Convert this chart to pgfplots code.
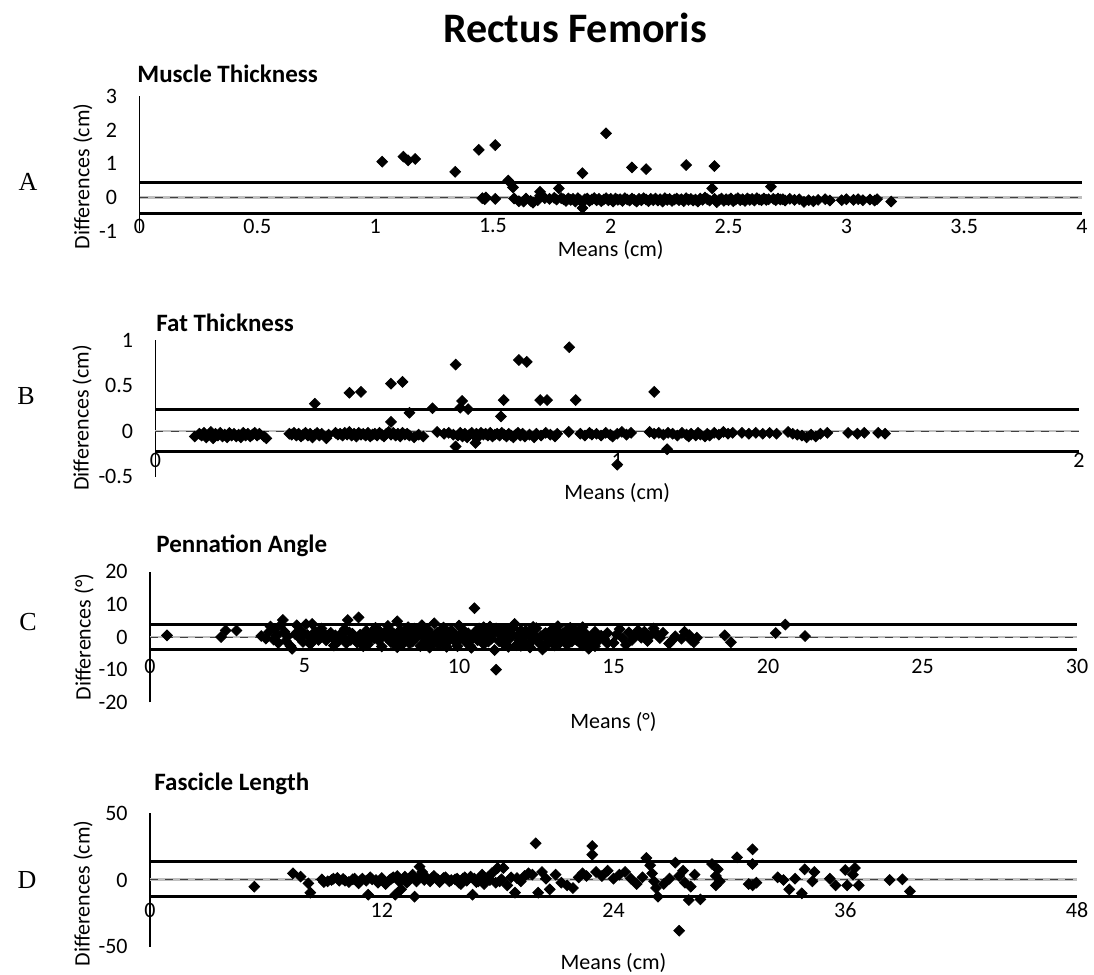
\documentclass[border=0pt]{standalone}
\usepackage{fontspec}
\setmainfont{Carlito}
\newfontfamily\letterfont{Liberation Serif}
\usepackage{pgfplots}
\pgfplotsset{compat=1.18}

\pgfplotsset{
  ba/.style={
    scale only axis, anchor=south west, clip=false,
    axis x line*=bottom, axis y line*=left,
    x axis line style={draw=none},
    y axis line style={line width=0.8pt,-},
    major tick length=0pt,
    /pgf/number format/assume math mode=true,
    tick label style={font=\fontsize{11}{13}\selectfont},
    xticklabel style={anchor=center},
    yticklabel style={anchor=east, inner sep=0pt, xshift=-11pt},
    label style={font=\fontsize{11}{13}\selectfont},
    xlabel style={anchor=center},
    ylabel style={anchor=center},
    title style={font=\bfseries\fontsize{12.5}{15}\selectfont, anchor=west, inner sep=0pt},
  },
  pts/.style={only marks, black, mark=square*, mark size=1.9pt,
    mark options={rotate=45, fill=black, draw=black}},
  loa/.style={black, line width=1.5pt, no markers},
  meanbase/.style={gray!50, line width=1.3pt, no markers},
  meandash/.style={black!75, line width=0.5pt, dash pattern=on 4pt off 3.5pt, no markers},
}

\begin{document}
\begin{tikzpicture}
\path[use as bounding box] (0,0) rectangle (547pt,-487.5pt);

\node[font=\bfseries\fontsize{21}{25}\selectfont] at (287.5pt,-14pt) {Rectus Femoris};
\node[font=\letterfont\fontsize{13}{15}\selectfont] at (14pt,-91pt) {A};
\node[font=\letterfont\fontsize{13}{15}\selectfont] at (13pt,-198pt) {B};
\node[font=\letterfont\fontsize{13}{15}\selectfont] at (14pt,-311pt) {C};
\node[font=\letterfont\fontsize{13}{15}\selectfont] at (13.5pt,-440pt) {D};

% A: muscle thickness
\begin{axis}[ba, at={(69.75pt,-115.65pt)}, width=471.25pt, height=67.6pt,
  xmin=0, xmax=4, ymin=-1, ymax=3,
  xtick={0,0.5,...,4}, ytick={-1,0,1,2,3},
  xticklabel style={yshift=2.65pt},
  title={Muscle Thickness}, title style={at={(axis description cs:0,1)}, xshift=-1.25pt, yshift=5pt},
  xlabel={Means (cm)}, xlabel style={at={(axis description cs:0.5,0)}, yshift=-9.35pt},
  ylabel={Differences (cm)}, ylabel style={at={(axis description cs:-0.06,0.405)}},
]
\addplot[loa] coordinates {(0,0.44) (4,0.44)};
\addplot[loa] coordinates {(0,-0.47) (4,-0.47)};
\addplot[meanbase] coordinates {(0,0) (4,0)};
\addplot[meandash] coordinates {(0,0) (4,0)};
\addplot[pts] coordinates {
(1.03,1.06)(1.12,1.21)(1.14,1.10)(1.17,1.14)(1.34,0.76)(1.44,1.41)(1.51,1.55)
(1.565,0.50)(1.585,0.30)(1.70,0.17)(1.78,0.27)(1.88,0.72)(1.98,1.90)(2.09,0.89)
(2.15,0.84)(2.32,0.96)(2.44,0.93)(2.43,0.27)(2.68,0.32)(1.88,-0.31)(3.19,-0.12)
(1.455,-0.02)(1.47,0.0)(1.465,-0.05)(1.51,-0.04)(1.59,-0.03)(1.61,-0.11)(1.63,-0.12)
(1.64,-0.03)(1.66,-0.10)(1.67,-0.15)(1.69,-0.08)(1.70,0.05)(1.72,-0.02)(1.74,-0.04)
(1.76,-0.01)(1.77,-0.06)(1.79,-0.02)(1.80,-0.05)(1.81,-0.10)(1.82,-0.03)(1.83,-0.07)
(1.84,-0.04)(1.85,-0.12)(1.86,-0.02)(1.87,-0.08)(1.88,-0.15)(1.89,-0.05)(1.90,-0.03)
(1.91,-0.10)(1.92,-0.06)(1.93,-0.02)(1.94,-0.08)(1.95,-0.04)(1.96,-0.11)(1.97,-0.06)
(1.98,-0.02)(1.99,-0.08)(2.00,-0.04)(2.01,-0.12)(2.02,-0.03)(2.03,-0.07)(2.04,-0.05)
(2.05,-0.10)(2.06,-0.02)(2.07,-0.06)(2.08,-0.09)(2.09,-0.03)(2.10,-0.07)(2.11,-0.12)
(2.12,-0.04)(2.13,-0.08)(2.14,-0.02)(2.15,-0.06)(2.16,-0.11)(2.17,-0.04)(2.18,-0.08)
(2.19,-0.03)(2.20,-0.09)(2.21,-0.05)(2.22,-0.12)(2.23,-0.02)(2.24,-0.07)(2.25,-0.04)
(2.26,-0.10)(2.27,-0.06)(2.28,-0.03)(2.29,-0.08)(2.30,-0.05)(2.31,-0.11)(2.32,-0.02)
(2.33,-0.07)(2.34,-0.04)(2.35,-0.09)(2.36,-0.06)(2.37,-0.12)(2.38,-0.03)(2.39,-0.07)
(2.40,0.0)(2.41,-0.05)(2.42,-0.09)(2.44,-0.04)(2.45,-0.14)(2.46,-0.07)(2.47,-0.03)
(2.48,-0.10)(2.49,-0.05)(2.50,-0.08)(2.51,-0.03)(2.52,-0.11)(2.53,-0.06)(2.54,-0.02)
(2.55,-0.08)(2.56,-0.05)(2.57,-0.10)(2.58,-0.03)(2.59,-0.07)(2.60,-0.04)(2.61,-0.09)
(2.62,-0.02)(2.63,-0.06)(2.64,-0.08)(2.65,-0.03)(2.66,-0.07)(2.67,-0.05)(2.69,-0.04)
(2.70,-0.08)(2.71,-0.03)(2.72,-0.06)(2.73,-0.05)(2.74,-0.09)(2.76,-0.04)(2.78,-0.07)
(2.80,-0.05)(2.82,-0.13)(2.84,-0.08)(2.86,-0.11)(2.88,-0.07)(2.91,-0.05)(2.93,-0.09)
(2.98,-0.08)(3.00,-0.05)(3.03,-0.07)(3.05,-0.05)(3.07,-0.08)(3.10,-0.06)(3.12,-0.09)
(3.13,-0.05)
};
\end{axis}

% B: fat thickness
\begin{axis}[ba, at={(77.75pt,-238.25pt)}, width=461.75pt, height=68.25pt,
  xmin=0, xmax=2, ymin=-0.5, ymax=1,
  xtick={0,1,2}, ytick={-0.5,0,0.5,1},
  xticklabel style={yshift=8.25pt},
  title={Fat Thickness}, title style={at={(axis description cs:0,1)}, xshift=0.25pt, yshift=2.5pt},
  xlabel={Means (cm)}, xlabel style={at={(axis description cs:0.5,0)}, yshift=-8.25pt},
  ylabel={Differences (cm)}, ylabel style={at={(axis description cs:-0.0796,0.43)}},
]
\addplot[loa] coordinates {(0,0.24) (2,0.24)};
\addplot[loa] coordinates {(0,-0.22) (2,-0.22)};
\addplot[meanbase] coordinates {(0,0) (2,0)};
\addplot[meandash] coordinates {(0,0) (2,0)};
\addplot[pts] coordinates {
(0.085,-0.06)(0.095,-0.03)(0.10,-0.05)(0.105,-0.02)(0.11,-0.07)(0.115,-0.04)(0.12,-0.01)
(0.125,-0.08)(0.13,-0.03)(0.135,-0.05)(0.14,-0.02)(0.145,-0.06)(0.15,-0.04)(0.155,-0.07)
(0.16,-0.02)(0.165,-0.05)(0.17,-0.03)(0.175,-0.06)(0.18,-0.04)(0.185,-0.07)(0.19,-0.02)
(0.195,-0.05)(0.20,-0.03)(0.205,-0.06)(0.21,-0.04)(0.215,-0.02)(0.22,-0.05)(0.225,-0.03)
(0.235,-0.06)(0.24,-0.08)
(0.29,-0.03)(0.295,-0.04)(0.30,-0.02)(0.305,-0.05)(0.31,-0.03)(0.315,-0.06)(0.32,-0.04)
(0.325,-0.02)(0.33,-0.05)(0.335,-0.03)(0.34,-0.07)(0.345,-0.04)(0.35,-0.02)(0.355,-0.05)
(0.36,-0.03)(0.37,-0.08)(0.375,-0.04)(0.345,0.30)
(0.39,-0.02)(0.395,-0.04)(0.40,-0.03)(0.405,-0.05)(0.41,-0.02)(0.415,-0.04)(0.42,-0.01)
(0.425,-0.05)(0.43,-0.03)(0.435,-0.06)(0.44,-0.02)(0.445,-0.04)(0.45,-0.03)(0.455,-0.05)
(0.46,-0.02)(0.465,-0.06)(0.47,-0.04)(0.475,-0.03)(0.48,-0.05)(0.485,-0.02)(0.49,-0.04)
(0.495,-0.06)(0.50,-0.03)(0.505,-0.01)(0.51,-0.04)(0.515,-0.02)(0.52,-0.05)(0.525,-0.03)
(0.53,-0.06)(0.535,-0.02)(0.54,-0.04)(0.545,-0.03)(0.55,-0.05)(0.56,-0.07)(0.57,-0.04)
(0.58,-0.06)
(0.42,0.42)(0.445,0.43)(0.51,0.52)(0.535,0.54)(0.51,0.10)(0.55,0.20)(0.60,0.25)
(0.65,0.73)(0.664,0.33)(0.66,0.255)(0.677,0.24)(0.65,-0.17)(0.693,-0.13)(0.748,0.16)
(0.754,0.34)(0.787,0.78)(0.804,0.76)(0.833,0.34)(0.848,0.34)(0.896,0.92)(0.91,0.34)
(1.08,0.43)(1.0,-0.37)(1.108,-0.20)
(0.61,-0.01)(0.625,-0.03)(0.635,-0.02)(0.645,-0.04)(0.655,-0.05)(0.66,-0.02)(0.665,-0.06)
(0.67,-0.03)(0.675,-0.07)(0.68,-0.04)(0.685,-0.02)(0.69,-0.05)(0.695,-0.03)(0.70,-0.06)
(0.705,-0.02)(0.71,-0.04)(0.715,-0.03)(0.72,-0.05)(0.725,-0.02)(0.73,-0.06)(0.735,-0.04)
(0.74,-0.03)(0.745,-0.05)(0.75,-0.02)(0.755,-0.04)(0.76,-0.06)(0.765,-0.03)(0.77,-0.05)
(0.775,-0.07)(0.78,-0.04)(0.785,-0.02)(0.79,-0.05)(0.795,-0.03)(0.80,-0.06)(0.81,-0.04)
(0.82,-0.07)(0.825,-0.03)(0.835,-0.05)(0.845,-0.02)(0.855,-0.04)(0.865,-0.06)(0.87,-0.03)
(0.895,-0.01)
(0.92,-0.03)(0.93,-0.05)(0.94,-0.02)(0.945,-0.04)(0.955,-0.03)(0.965,-0.05)(0.975,-0.02)
(0.985,-0.04)(0.99,-0.06)(1.0,-0.03)(1.01,-0.01)(1.02,-0.04)(1.03,-0.02)
(1.07,-0.01)(1.08,-0.03)(1.09,-0.02)(1.10,-0.04)(1.11,-0.02)(1.12,-0.03)(1.13,-0.05)
(1.14,-0.02)(1.15,-0.04)(1.155,-0.06)(1.16,-0.03)(1.17,-0.05)(1.175,-0.02)(1.18,-0.04)
(1.19,-0.06)(1.195,-0.03)(1.20,-0.05)(1.21,-0.02)(1.22,-0.04)(1.23,-0.01)(1.24,-0.03)
(1.25,-0.02)
(1.27,-0.02)(1.285,-0.03)(1.30,-0.02)(1.315,-0.03)(1.33,-0.02)(1.345,-0.03)
(1.37,-0.01)(1.38,-0.03)(1.39,-0.04)(1.40,-0.05)(1.41,-0.07)(1.42,-0.04)(1.43,-0.06)
(1.44,-0.03)(1.455,-0.02)
(1.50,-0.02)(1.52,-0.03)(1.535,-0.02)(1.565,-0.02)(1.58,-0.03)
};
\end{axis}

% C: pennation angle
\begin{axis}[ba, at={(75pt,-351.2pt)}, width=463.5pt, height=65.4pt,
  xmin=0, xmax=30, ymin=-20, ymax=20,
  xtick={0,5,...,30}, ytick={-20,-10,0,10,20},
  xticklabel style={yshift=18.2pt},
  title={Pennation Angle}, title style={at={(axis description cs:0,1)}, xshift=3pt, yshift=6.8pt},
  xlabel={Means (°)}, xlabel style={at={(axis description cs:0.5,0)}, yshift=-9.8pt},
  ylabel={Differences (°)}, ylabel style={at={(axis description cs:-0.0712,0.5)}},
]
\addplot[loa] coordinates {(0,3.9) (30,3.9)};
\addplot[loa] coordinates {(0,-3.7) (30,-3.7)};
\addplot[meanbase] coordinates {(0,0) (30,0)};
\addplot[meandash] coordinates {(0,0) (30,0)};
\addplot[pts] coordinates {
(0.55,0.5)(2.3,0)(2.45,2)(2.8,2)
(3.6,0.3)(3.75,-0.5)(3.85,1.5)(3.9,3.2)(4.0,-0.8)(4.05,2.4)(4.1,0.5)(4.15,-1.8)(4.25,3.8)
(4.3,5.2)(4.35,1.6)(4.4,-1.2)(4.45,0.2)(4.55,-2.8)(4.6,-3.6)(4.7,0.9)(4.75,3.6)(4.85,-0.4)
(4.9,1.8)(4.95,-1.5)(5.05,3.9)(5.1,0.6)(5.2,-2.1)(5.25,4.0)(5.3,-0.7)(5.4,1.1)(5.5,-0.3)
(5.6,0.4)(5.7,-1.0)(5.8,0.8)(5.9,-0.2)(6.0,0.5)(6.1,-1.3)(6.2,0.9)(6.3,-0.6)(6.4,5.2)
(6.45,1.4)(6.5,-0.9)(6.6,0.3)(6.7,-1.7)(6.75,6.0)(6.8,0.7)(6.9,-0.4)(7.0,1.9)(7.1,-0.8)
(7.2,0.2)(7.3,2.8)(7.4,-1.1)(7.5,-2.9)(7.55,0.6)(7.6,1.5)(7.7,-0.5)(7.75,2.3)(7.8,-1.6)
(7.9,0.9)(8.0,4.8)(8.05,-0.2)(8.1,2.1)(8.15,-2.4)(8.2,1.2)(8.3,-0.7)(8.35,3.0)(8.4,0.4)
(8.5,-1.4)(8.55,2.6)(8.6,-0.3)(8.7,1.7)(8.75,-2.8)(8.8,0.8)(8.9,-0.9)(9.0,2.2)(9.05,-3.2)
(9.1,0.5)(9.2,4.2)(9.25,-1.2)(9.3,1.4)(9.4,-0.4)(9.5,2.9)(9.55,-2.0)(9.6,0.7)(9.7,-0.8)
(9.8,1.6)(9.9,-1.6)(10.0,0.3)(10.1,2.5)(10.2,-0.6)(10.3,1.1)(10.35,-2.6)(10.4,0.2)
(10.5,8.8)(10.55,1.8)(10.6,-1.0)(10.7,0.6)(10.8,-2.2)(10.9,1.3)(11.0,3.2)(11.05,-0.5)
(11.1,0.9)(11.15,-4.0)(11.2,-10.0)(11.25,1.5)(11.3,-1.3)(11.4,0.4)(11.5,2.4)(11.6,-0.8)
(11.7,1.0)(11.8,4.0)(11.85,-2.5)(11.9,0.5)(12.0,2.0)(12.1,-1.5)(12.2,0.8)(12.3,-3.2)
(12.35,1.6)(12.4,-0.4)(12.5,2.7)(12.6,-1.9)(12.65,0.3)(12.7,-3.8)(12.8,1.2)(12.9,-0.7)
(13.0,2.2)(13.1,-2.6)(13.15,0.6)(13.2,1.7)(13.3,-1.1)(13.4,0.2)(13.5,-2.4)(13.6,-0.5)
(13.7,1.4)(13.8,-0.9)(13.9,0.5)(14.0,3.0)(14.05,-1.6)(14.1,1.0)(14.2,-3.6)(14.3,-0.2)
(14.4,1.6)(14.5,-1.2)(14.6,0.4)(14.7,-0.6)(14.8,1.2)(15.0,-1.8)(15.1,0.8)(15.2,2.4)
(15.3,-0.4)(15.5,1.4)(15.6,-0.9)(15.7,0.3)(16.0,1.6)(16.1,-1.2)(16.2,0.5)(16.3,2.6)
(16.5,-0.3)(16.6,1.3)(16.9,-1.0)(17.0,0.2)(17.3,1.6)(17.45,0.6)(17.5,-0.8)(17.6,-1.6)
(17.7,-0.2)(18.6,0.5)(18.8,-1.6)(20.25,1.2)(20.56,3.8)(21.2,0.3)
(5.15,-1.8)(5.35,1.7)(5.45,-0.9)(5.65,0.9)(5.75,-0.1)(5.85,1.3)(6.05,-0.7)(6.15,0.2)
(6.25,1.6)(6.35,-1.9)(6.55,1.0)(6.65,-0.2)(6.85,-1.3)(6.95,0.6)(7.05,-2.3)(7.15,1.1)
(7.25,-0.4)(7.35,0.8)(7.45,1.6)(7.65,-0.1)(7.85,0.4)(7.95,-0.6)(8.25,-1.2)(8.45,1.0)
(8.65,0.1)(8.85,2.4)(8.95,-1.8)(9.15,-0.4)(9.35,-2.4)(9.45,1.9)(9.65,-0.2)(9.75,2.0)
(9.85,0.4)(9.95,-2.8)(10.05,-0.4)(10.15,1.0)(10.25,-1.8)(10.45,-0.2)(10.65,2.6)(10.75,-0.4)
(10.85,0.2)(10.95,-1.4)(11.35,2.0)(11.45,-2.2)(11.55,0.9)(11.65,-0.2)(11.75,2.9)(11.95,-1.0)
(12.05,0.1)(12.15,1.9)(12.25,-2.2)(12.45,0.4)(12.55,-0.8)(12.75,0.8)(12.85,-1.6)(12.95,1.4)
(13.05,-0.3)(13.25,-1.9)(13.35,0.9)(13.45,1.8)(13.55,0.3)(13.65,-1.4)(13.75,2.2)(13.85,0.0)
(13.95,-2.1)(14.15,0.3)(14.25,-2.0)(14.35,0.8)(14.45,-0.5)
(5.55,2.6)(5.95,-2.6)(6.3,2.4)(6.9,-2.8)(7.3,-0.1)(7.7,3.4)(8.0,-3.1)(8.4,-2.0)(8.8,3.6)
(9.2,-1.8)(9.6,-3.0)(10.0,3.5)(10.4,-3.3)(10.8,3.0)(11.2,2.6)(11.6,-3.0)(12.0,-2.7)
(12.4,3.1)(12.8,-2.9)(13.2,3.3)(13.6,2.8)(14.0,-2.5)(14.4,-2.8)(14.8,-1.9)(15.4,-2.4)
(15.9,-0.2)(16.4,0.9)(16.8,-2.0)(17.2,-0.5)(15.8,2.0)
};
\end{axis}

% D: fascicle length
\begin{axis}[ba, at={(75pt,-473.35pt)}, width=463.5pt, height=66.7pt,
  xmin=0, xmax=48, ymin=-50, ymax=50,
  xtick={0,12,24,36,48}, ytick={-50,0,50},
  xticklabel style={yshift=18.35pt},
  title={Fascicle Length}, title style={at={(axis description cs:0,1)}, xshift=2pt, yshift=8.5pt},
  xlabel={Means (cm)}, xlabel style={at={(axis description cs:0.5,0)}, yshift=-8.15pt},
  ylabel={Differences (cm)}, ylabel style={at={(axis description cs:-0.0723,0.40)}},
]
\addplot[loa] coordinates {(0,13.7) (48,13.7)};
\addplot[loa] coordinates {(0,-12) (48,-12)};
\addplot[meanbase] coordinates {(0,0.5) (48,0.5)};
\addplot[meandash] coordinates {(0,0.5) (48,0.5)};
\addplot[pts] coordinates {
(5.4,-5)(7.4,5)(7.8,2.5)(8.2,-2.5)(8.3,-9.5)(8.9,0.5)(9.2,-1)(9.5,1)(9.8,-0.5)(10.0,0.8)
(10.3,-1.5)(10.5,0.5)(10.8,-2.5)(11.0,1)(11.2,-0.5)(11.3,-11)(11.5,0.5)(11.8,-2)(12.0,1.5)
(12.2,-3)(12.4,0)(12.6,2)(12.7,-11)(12.9,-1)(13.0,-7)(13.2,2.5)(13.4,-0.5)(13.6,4)
(13.7,-12.5)(13.9,1.5)(13.96,10)(14.1,6)(14.3,2)(14.5,-1)(14.7,3)(14.9,0.5)(15.2,1.5)
(15.5,-1)(15.8,0.5)(16.0,-2)(16.2,1)(16.4,-0.5)(16.6,2.5)(16.7,-11)(16.9,-1.5)(17.1,1)
(17.3,-3)(17.5,2)(17.7,5)(17.9,-2)(18.0,9)(18.2,0.5)(18.3,9)(18.5,-4)(18.7,2)(18.9,-9.5)
(19.2,-1)(19.4,3)(19.6,5)(19.8,4)(19.97,27.5)(20.1,-9.5)(20.3,6)(20.5,1)(20.7,-7)(21.0,4)
(21.3,-2)(21.6,-4)(21.9,-6)(22.2,2)(22.4,5)(22.6,3)(22.9,25.5)(22.9,19)(23.1,6)(23.4,3)
(23.7,7)(24.0,1)(24.3,4)(24.6,6)(24.9,1)(25.2,-3)(25.5,2)(25.7,16.5)(25.9,11)(26.0,5)
(26.1,-1)(26.2,-6)(26.3,-12.5)(26.6,-3)(26.9,1)(27.2,13)(27.4,-38)(27.4,3)(27.6,7)
(27.7,-2)(27.9,-15)(28.0,-5)(28.2,4)(28.5,-14.5)(29.1,12)(29.3,-4)(29.3,3)(29.4,8)
(29.5,-1)(30.4,17)(31.2,23)(31.2,12)(31.0,-3)(31.2,-4)(31.4,-2)(32.5,2)(32.8,0)(33.1,-7)
(33.4,1)(33.75,-10)(33.9,8)(34.4,6)(34.3,-1)(35.2,1)(35.5,-4)(36.0,7.5)(36.1,-4)(36.5,9)
(36.4,4)(36.7,-4)(38.3,0)(38.96,0.5)(39.35,-8.5)
(9.0,-1.5)(9.4,0)(9.7,1.5)(10.1,-0.5)(10.6,1)(10.9,-0.5)(11.4,2)(11.7,0)(12.1,-1)
(12.5,1)(12.8,3)(13.1,0.5)(13.3,-2)(13.8,-1)(14.2,0)(14.6,1.5)(15.0,-1.5)(15.3,2)
(15.6,0)(15.9,1)(16.1,-3)(16.3,2)(16.8,1)(17.0,-1)(17.2,4)(17.6,0)(18.1,-1)(19.0,1.5)
};
\end{axis}
\end{tikzpicture}
\end{document}
